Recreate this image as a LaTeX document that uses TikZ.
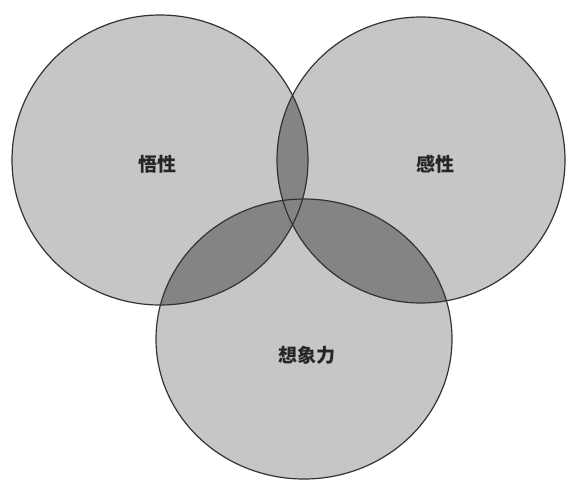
\documentclass[tikz,border=0pt]{standalone}
\usepackage{fontspec}
\newfontfamily\cjk{Noto Sans CJK SC}
\begin{document}
\begin{tikzpicture}[x=1pt,y=-1pt,
  lbl/.style={font=\cjk\bfseries\fontsize{19pt}{21pt}\selectfont, text=black!85, inner sep=0pt},
  outline/.style={draw=black!80, line width=1.2pt}]
\definecolor{lightfill}{RGB}{198,198,198}
\definecolor{darkfill}{RGB}{132,132,132}
\useasboundingbox (0,0) rectangle (569,485);
\fill[white] (0,0) rectangle (569,485);
\coordinate (cL) at (160,160);
\coordinate (cR) at (421,160);
\coordinate (cB) at (304,339);
\def\shL{(cL) ellipse [x radius=148pt, y radius=145pt]}
\def\shR{(cR) ellipse [x radius=144pt, y radius=143pt]}
\def\shB{(cB) ellipse [x radius=148pt, y radius=140pt]}
\fill[lightfill] \shL;
\fill[lightfill] \shR;
\fill[lightfill] \shB;
\begin{scope}
  \clip \shL;
  \fill[darkfill] \shR;
  \fill[darkfill] \shB;
\end{scope}
\begin{scope}
  \clip \shR;
  \fill[darkfill] \shB;
\end{scope}
\draw[outline] \shL;
\draw[outline] \shR;
\draw[outline] \shB;
\node[lbl] (wuxing) at (157,164) {悟性};
\node[lbl] (ganxing) at (435,164) {感性};
\node[lbl] (xiangxiangli) at (307,355) {想象力};
\end{tikzpicture}
\end{document}
